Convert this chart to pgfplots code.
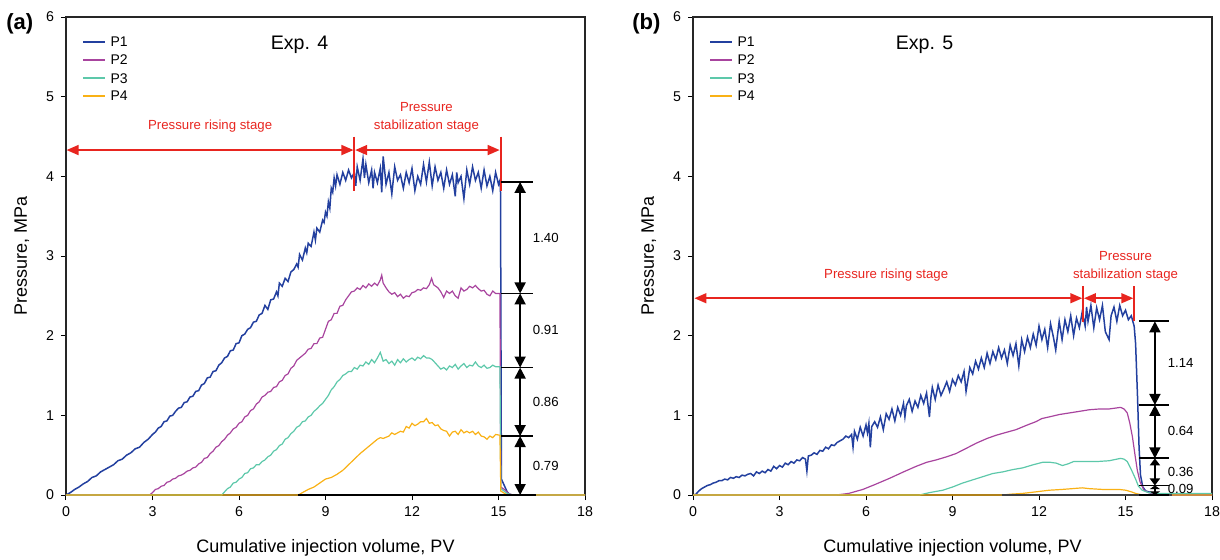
\documentclass[border=0pt]{standalone}
\usepackage{fontspec}
\setmainfont{Liberation Sans}
\usepackage{pgfplots}
\pgfplotsset{compat=1.18}
\usetikzlibrary{arrows.meta}
\definecolor{pone}{HTML}{23409F}
\definecolor{ptwo}{HTML}{A8449E}
\definecolor{pthree}{HTML}{5DC8AA}
\definecolor{pfour}{HTML}{F9B115}
\definecolor{annred}{HTML}{E8251F}

\pgfplotsset{
  pvplot/.style={
    scale only axis, width=259.5pt, height=239pt,
    xmin=0, xmax=18, ymin=0, ymax=6,
    xtick={0,3,...,18}, ytick={0,1,...,6},
    xtick pos=left, ytick pos=left,
    tick align=outside, major tick length=2.5pt,
    tick style={black, line width=0.5pt},
    axis line style={black!85, line width=0.6pt},
    ticklabel style={font=\fontsize{7.1}{8}\selectfont},
    /pgf/number format/assume math mode=true,
    xlabel={Cumulative injection volume, PV},
    ylabel={Pressure, MPa},
    label style={font=\fontsize{9}{11}\selectfont},
    xlabel style={at={(axis description cs:0.5,-0.111)}, anchor=center},
    ylabel style={at={(axis description cs:-0.085,0.5)}, anchor=center},
    clip=false,
    every axis plot/.append style={line width=0.6pt},
  },
}
\tikzset{
  dimarrow/.style={black, line width=0.9pt, {Triangle[length=5.5pt,width=5.5pt]}-{Triangle[length=5.5pt,width=5.5pt]}},
  stagearrow/.style={annred, line width=0.8pt, {Triangle[length=6pt,width=5pt]}-{Triangle[length=6pt,width=5pt]}},
  anntext/.style={font=\fontsize{6.6}{9}\selectfont},
  dimtick/.style={black, line width=0.9pt},
  legtext/.style={anchor=west, inner sep=0pt, font=\fontsize{7}{8}\selectfont},
  legline/.style={line width=0.7pt},
}

\begin{document}
\begin{tikzpicture}
\path[use as bounding box] (-33pt,-32pt) rectangle (577pt,247.5pt);

% ---------- (a) Exp. 4 ----------
\begin{axis}[pvplot, at={(0pt,0pt)}]
\addplot[pone, line width=0.75pt] coordinates {
(0,0) (0.15,0.03) (0.3,0.07) (0.45,0.1) (0.6,0.14) (0.75,0.17) (0.9,0.22) (1.05,0.24)
(1.2,0.29) (1.35,0.32) (1.5,0.35) (1.65,0.38) (1.8,0.43) (1.95,0.45) (2.1,0.5) (2.25,0.53)
(2.4,0.58) (2.55,0.6) (2.7,0.66) (2.85,0.7) (3.0,0.76) (3.1,0.79) (3.2,0.84) (3.3,0.86)
(3.4,0.92) (3.5,0.93) (3.6,0.99) (3.7,1.0) (3.8,1.05) (3.9,1.09) (4.0,1.1) (4.1,1.16)
(4.2,1.17) (4.3,1.23) (4.4,1.24) (4.5,1.3) (4.6,1.31) (4.7,1.38) (4.8,1.40) (4.9,1.47)
(5.0,1.48) (5.1,1.55) (5.2,1.56) (5.3,1.63) (5.4,1.66) (5.5,1.72) (5.6,1.74) (5.7,1.81)
(5.8,1.82) (5.9,1.9) (6.0,1.91) (6.1,2.0) (6.2,2.02) (6.3,2.08) (6.4,2.1) (6.5,2.17)
(6.6,2.18) (6.7,2.26) (6.8,2.28) (6.9,2.38) (7.0,2.33) (7.1,2.45) (7.2,2.46) (7.3,2.55)
(7.35,2.5) (7.4,2.66) (7.5,2.62) (7.6,2.72) (7.7,2.68) (7.8,2.8) (7.9,2.83) (8.0,2.9)
(8.05,2.86) (8.1,3.02) (8.2,2.95) (8.3,3.1) (8.35,3.04) (8.4,3.16) (8.5,3.12) (8.6,3.3)
(8.65,3.2) (8.7,3.35) (8.8,3.3) (8.9,3.45) (8.95,3.42) (9.0,3.55) (9.05,3.5) (9.1,3.68)
(9.15,3.6) (9.2,3.85) (9.25,3.8) (9.3,3.98) (9.35,3.88) (9.4,4.02) (9.5,3.9) (9.6,4.05)
(9.7,3.95) (9.8,4.08) (9.9,3.98) (10.0,4.05) (10.05,3.88) (10.1,4.12) (10.2,3.95) (10.3,4.22)
(10.35,3.98) (10.4,4.15) (10.5,3.92) (10.6,4.08) (10.65,3.85) (10.7,4.05) (10.8,3.92) (10.9,4.1)
(10.95,3.8) (11.0,4.25) (11.1,3.9) (11.2,4.05) (11.3,3.78) (11.4,4.12) (11.5,3.95) (11.6,4.02)
(11.7,3.85) (11.8,4.05) (11.9,3.92) (12.0,4.1) (12.1,3.82) (12.2,4.0) (12.3,3.9) (12.4,4.15)
(12.5,3.93) (12.6,4.18) (12.7,3.88) (12.8,4.12) (12.9,3.95) (13.0,4.05) (13.1,3.85) (13.2,4.08)
(13.3,3.9) (13.4,4.02) (13.5,3.75) (13.55,4.05) (13.6,3.92) (13.7,4.0) (13.8,3.72) (13.9,4.08)
(14.0,3.9) (14.1,4.12) (14.2,3.95) (14.3,4.05) (14.4,3.85) (14.5,4.08) (14.6,3.88) (14.7,4.0)
(14.8,3.82) (14.9,4.05) (15.0,3.9) (15.05,3.95) (15.07,3.8) (15.1,0.2) (15.2,0.12) (15.3,0.04)
(15.4,0) (18,0)
};
\addplot[ptwo] coordinates {
(0,0) (2.9,0) (3.0,0.03) (3.1,0.07) (3.2,0.08) (3.3,0.11) (3.4,0.12) (3.5,0.16) (3.6,0.17)
(3.7,0.2) (3.8,0.21) (3.9,0.24) (4.0,0.25) (4.1,0.27) (4.2,0.3) (4.3,0.31) (4.4,0.34) (4.5,0.35)
(4.6,0.39) (4.7,0.41) (4.8,0.46) (4.9,0.47) (5.0,0.52) (5.1,0.55) (5.2,0.6) (5.3,0.62) (5.4,0.67)
(5.5,0.7) (5.6,0.75) (5.7,0.78) (5.8,0.83) (5.9,0.85) (6.0,0.9) (6.1,0.92) (6.2,0.98) (6.3,1.0)
(6.4,1.06) (6.5,1.08) (6.6,1.14) (6.7,1.17) (6.8,1.23) (6.9,1.25) (7.0,1.29) (7.1,1.3) (7.2,1.35)
(7.3,1.36) (7.4,1.42) (7.5,1.44) (7.6,1.5) (7.7,1.52) (7.8,1.59) (7.9,1.62) (8.0,1.69) (8.1,1.72)
(8.2,1.75) (8.3,1.78) (8.4,1.83) (8.5,1.84) (8.6,1.9) (8.7,1.9) (8.8,1.97) (8.9,1.98) (9.0,2.08)
(9.1,2.18) (9.2,2.2) (9.3,2.28) (9.4,2.28) (9.5,2.37) (9.6,2.38) (9.7,2.45) (9.8,2.5) (9.9,2.55)
(10.0,2.56) (10.1,2.6) (10.2,2.58) (10.3,2.63) (10.4,2.6) (10.5,2.65) (10.6,2.62) (10.7,2.66)
(10.8,2.63) (10.9,2.7) (10.95,2.76) (11.0,2.66) (11.1,2.6) (11.2,2.55) (11.3,2.52) (11.4,2.54)
(11.5,2.49) (11.6,2.52) (11.7,2.47) (11.8,2.5) (11.9,2.49) (12.0,2.54) (12.1,2.55) (12.2,2.58)
(12.3,2.57) (12.4,2.6) (12.5,2.59) (12.6,2.64) (12.68,2.72) (12.75,2.64) (12.9,2.6) (13.0,2.55)
(13.1,2.48) (13.2,2.56) (13.3,2.53) (13.4,2.56) (13.5,2.5) (13.6,2.47) (13.7,2.6) (13.8,2.56)
(13.9,2.58) (14.0,2.62) (14.1,2.6) (14.2,2.63) (14.3,2.59) (14.4,2.56) (14.5,2.57) (14.6,2.52)
(14.7,2.5) (14.8,2.56) (14.9,2.53) (15.05,2.53) (15.08,0.1) (15.2,0.07) (15.35,0.02) (15.5,0) (18,0)
};
\addplot[pthree] coordinates {
(0,0) (5.4,0) (5.5,0.04) (5.6,0.08) (5.7,0.1) (5.8,0.15) (5.9,0.16) (6.0,0.2) (6.1,0.22)
(6.2,0.27) (6.3,0.28) (6.4,0.33) (6.5,0.34) (6.6,0.38) (6.7,0.38) (6.8,0.42) (6.9,0.44) (7.0,0.48)
(7.1,0.5) (7.2,0.55) (7.3,0.57) (7.4,0.62) (7.5,0.64) (7.6,0.7) (7.7,0.72) (7.8,0.77) (7.9,0.8)
(8.0,0.85) (8.1,0.87) (8.2,0.92) (8.3,0.93) (8.4,0.98) (8.5,1.0) (8.6,1.05) (8.7,1.08) (8.8,1.12)
(8.9,1.15) (9.0,1.2) (9.1,1.25) (9.2,1.32) (9.3,1.36) (9.4,1.42) (9.5,1.45) (9.6,1.5) (9.7,1.52)
(9.8,1.55) (9.9,1.55) (10.0,1.6) (10.1,1.58) (10.2,1.63) (10.3,1.62) (10.4,1.67) (10.5,1.64)
(10.6,1.7) (10.7,1.66) (10.8,1.72) (10.9,1.79) (11.0,1.68) (11.1,1.7) (11.2,1.65) (11.3,1.68)
(11.4,1.63) (11.5,1.7) (11.6,1.66) (11.7,1.71) (11.8,1.67) (11.9,1.7) (12.0,1.72) (12.1,1.69)
(12.2,1.73) (12.3,1.71) (12.4,1.75) (12.5,1.72) (12.6,1.72) (12.7,1.7) (12.8,1.66) (12.9,1.62)
(13.0,1.58) (13.1,1.6) (13.2,1.57) (13.3,1.62) (13.4,1.6) (13.5,1.64) (13.6,1.58) (13.7,1.62)
(13.8,1.65) (13.9,1.6) (14.0,1.63) (14.1,1.62) (14.2,1.67) (14.3,1.62) (14.4,1.6) (14.5,1.63)
(14.6,1.59) (14.7,1.6) (14.8,1.63) (14.9,1.61) (15.05,1.61) (15.08,0.08) (15.3,0.02) (15.5,0) (18,0)
};
\addplot[pfour] coordinates {
(0,0) (8.06,0) (8.2,0.03) (8.4,0.07) (8.6,0.1) (8.8,0.15) (9.0,0.2) (9.2,0.22) (9.4,0.26)
(9.6,0.31) (9.8,0.38) (10.0,0.45) (10.2,0.52) (10.4,0.58) (10.6,0.64) (10.8,0.7) (10.9,0.72)
(11.0,0.71) (11.2,0.74) (11.3,0.78) (11.4,0.76) (11.6,0.8) (11.7,0.79) (11.8,0.86) (11.9,0.84)
(12.0,0.9) (12.1,0.87) (12.2,0.89) (12.3,0.92) (12.4,0.92) (12.5,0.96) (12.6,0.9) (12.7,0.91)
(12.8,0.87) (12.9,0.88) (13.0,0.83) (13.1,0.81) (13.2,0.8) (13.3,0.74) (13.4,0.79) (13.5,0.8)
(13.6,0.76) (13.7,0.82) (13.8,0.78) (13.9,0.8) (14.0,0.78) (14.1,0.8) (14.2,0.76) (14.3,0.79)
(14.4,0.74) (14.5,0.73) (14.6,0.7) (14.7,0.74) (14.8,0.72) (14.9,0.76) (15.05,0.75) (15.08,0.05)
(15.3,0) (18,0)
};
\addplot[black, line width=0.7pt] coordinates {(8.05,0) (16.3,0)};

% legend
\draw[pone, legline] (axis description cs:0.033,0.948) -- (axis description cs:0.075,0.948);
\draw[ptwo, legline] (axis description cs:0.033,0.910) -- (axis description cs:0.075,0.910);
\draw[pthree, legline] (axis description cs:0.033,0.872) -- (axis description cs:0.075,0.872);
\draw[pfour, legline] (axis description cs:0.033,0.835) -- (axis description cs:0.075,0.835);
\node[legtext] at (axis description cs:0.085,0.948) {P1};
\node[legtext] at (axis description cs:0.085,0.910) {P2};
\node[legtext] at (axis description cs:0.085,0.872) {P3};
\node[legtext] at (axis description cs:0.085,0.835) {P4};

% stage arrows
\draw[stagearrow] (0.02,4.33) -- (9.97,4.33);
\draw[stagearrow] (10.03,4.33) -- (15.04,4.33);
\draw[annred, line width=1pt] (10.0,4.5) -- (10.0,3.82);
\draw[annred, line width=1pt] (15.07,4.5) -- (15.07,3.82);
\node[anntext, text=annred] at (5.0,4.63) {Pressure rising stage};
\node[anntext, text=annred, align=center] at (12.5,4.74) {Pressure\\stabilization stage};
\node[font=\fontsize{9.8}{11}\selectfont] at (8.1,5.65) {Exp. 4};

% pressure drop brackets
\draw[dimtick] (15.1,3.93) -- (16.2,3.93);
\draw[dimtick] (15.1,2.53) -- (16.2,2.53);
\draw[dimtick] (15.1,1.60) -- (16.2,1.60);
\draw[dimtick] (15.1,0.74) -- (16.2,0.74);
\draw[dimtick] (15.1,0) -- (16.2,0);
\draw[dimarrow] (15.75,3.93) -- (15.75,2.53);
\draw[dimarrow] (15.75,2.53) -- (15.75,1.60);
\draw[dimarrow] (15.75,1.60) -- (15.75,0.74);
\draw[dimarrow] (15.75,0.74) -- (15.75,0);
\node[anntext, anchor=west] at (15.95,3.23) {1.40};
\node[anntext, anchor=west] at (15.95,2.07) {0.91};
\node[anntext, anchor=west] at (15.95,1.17) {0.86};
\node[anntext, anchor=west] at (15.95,0.37) {0.79};
\node[font=\bfseries\fontsize{11}{12}\selectfont] at (axis description cs:-0.089,0.985) {(a)};
\end{axis}

% ---------- (b) Exp. 5 ----------
\begin{axis}[pvplot, at={(313.5pt,0pt)}]
\addplot[pone, line width=0.75pt] coordinates {
(0,0) (0.1,0.01) (0.2,0.05) (0.3,0.08) (0.4,0.1) (0.5,0.12) (0.6,0.13) (0.7,0.15) (0.8,0.16)
(0.9,0.18) (1.0,0.18) (1.1,0.2) (1.2,0.19) (1.3,0.22) (1.4,0.21) (1.5,0.23) (1.6,0.22) (1.7,0.25)
(1.8,0.24) (1.9,0.26) (2.0,0.27) (2.1,0.24) (2.2,0.29) (2.3,0.27) (2.4,0.3) (2.5,0.28) (2.6,0.32)
(2.7,0.3) (2.8,0.36) (2.9,0.33) (3.0,0.37) (3.1,0.35) (3.2,0.4) (3.3,0.38) (3.4,0.42) (3.5,0.4)
(3.6,0.44) (3.7,0.43) (3.8,0.47) (3.9,0.45) (3.95,0.3) (4.0,0.49) (4.1,0.5) (4.2,0.53) (4.3,0.51)
(4.4,0.56) (4.5,0.55) (4.6,0.6) (4.7,0.58) (4.8,0.63) (4.9,0.62) (5.0,0.66) (5.1,0.68) (5.2,0.7)
(5.3,0.74) (5.4,0.72) (5.5,0.76) (5.55,0.6) (5.6,0.8) (5.7,0.7) (5.8,0.85) (5.9,0.74) (6.0,0.88)
(6.05,0.78) (6.1,0.9) (6.15,0.6) (6.2,0.86) (6.3,0.92) (6.4,0.85) (6.5,0.98) (6.6,0.82) (6.7,1.02)
(6.8,0.95) (6.9,1.08) (7.0,0.93) (7.1,1.1) (7.2,1.0) (7.3,1.15) (7.35,0.98) (7.4,1.12) (7.5,1.2)
(7.6,1.05) (7.7,1.18) (7.8,1.1) (7.9,1.25) (8.0,1.15) (8.1,1.28) (8.2,0.98) (8.25,1.22) (8.3,1.35)
(8.4,1.2) (8.5,1.38) (8.6,1.25) (8.7,1.33) (8.8,1.42) (8.9,1.3) (9.0,1.45) (9.1,1.38) (9.2,1.5)
(9.3,1.42) (9.4,1.55) (9.47,1.3) (9.55,1.48) (9.6,1.6) (9.7,1.52) (9.8,1.68) (9.9,1.58) (10.0,1.72)
(10.1,1.6) (10.2,1.78) (10.3,1.65) (10.4,1.8) (10.5,1.7) (10.6,1.85) (10.7,1.72) (10.8,1.82)
(10.9,1.65) (11.0,1.88) (11.1,1.75) (11.2,1.9) (11.3,1.62) (11.4,1.95) (11.5,1.8) (11.6,1.98)
(11.7,1.85) (11.8,2.02) (11.9,1.88) (12.0,2.12) (12.1,1.95) (12.2,2.08) (12.3,1.85) (12.4,2.15)
(12.5,1.98) (12.58,1.82) (12.7,2.18) (12.8,1.95) (12.9,2.2) (13.0,2.05) (13.1,2.25) (13.2,2.0)
(13.3,2.22) (13.4,2.1) (13.5,2.3) (13.6,2.12) (13.65,2.36) (13.7,2.18) (13.8,2.38) (13.9,2.1)
(14.0,2.35) (14.1,2.2) (14.2,2.38) (14.3,2.05) (14.43,1.95) (14.5,2.25) (14.6,2.36) (14.7,2.18)
(14.8,2.38) (14.9,2.25) (15.0,2.32) (15.1,2.2) (15.2,2.25) (15.3,2.12) (15.35,1.9) (15.42,1.2)
(15.47,0.6) (15.52,0.25) (15.6,0.1) (15.7,0.05) (16.0,0.02) (16.3,0) (18,0)
};
\addplot[ptwo] coordinates {
(0,0) (4.97,0) (5.4,0.02) (5.89,0.07) (6.3,0.13) (6.82,0.21) (7.3,0.29) (7.74,0.36) (8.1,0.41)
(8.43,0.44) (8.8,0.48) (9.12,0.52) (9.5,0.59) (9.82,0.65) (10.2,0.71) (10.51,0.75) (10.9,0.79)
(11.2,0.82) (11.6,0.88) (11.89,0.92) (12.1,0.96) (12.35,0.98) (12.7,1.01) (13.05,1.03) (13.4,1.05)
(13.74,1.07) (14.1,1.08) (14.43,1.08) (14.83,1.10) (14.95,1.08) (15.06,1.03) (15.15,0.9)
(15.24,0.73) (15.33,0.5) (15.41,0.31) (15.5,0.17) (15.64,0.06) (15.8,0.03) (16.0,0.01) (16.3,0) (18,0)
};
\addplot[pthree] coordinates {
(0,0) (7.85,0) (8.2,0.03) (8.66,0.06) (9.0,0.1) (9.35,0.15) (9.7,0.19) (10.05,0.23) (10.4,0.27)
(10.74,0.29) (11.1,0.32) (11.43,0.34) (11.8,0.38) (12.12,0.41) (12.4,0.41) (12.6,0.40) (12.81,0.37)
(13.0,0.39) (13.2,0.42) (13.51,0.42) (14.0,0.42) (14.43,0.43) (14.83,0.46) (14.95,0.45) (15.06,0.42)
(15.2,0.32) (15.35,0.2) (15.45,0.11) (15.58,0.06) (15.8,0.03) (16.2,0.02) (18,0.02)
};
\addplot[pfour] coordinates {
(0,0) (10.74,0) (11.0,0.01) (11.43,0.02) (11.9,0.04) (12.35,0.06) (12.8,0.07) (13.16,0.08)
(13.5,0.09) (13.74,0.08) (14.2,0.07) (14.78,0.07) (15.01,0.06) (15.2,0.04) (15.35,0.02) (15.58,0) (18,0)
};
\addplot[black!75, line width=0.7pt] coordinates {(10.7,0) (16.6,0)};

% legend
\draw[pone, legline] (axis description cs:0.033,0.948) -- (axis description cs:0.075,0.948);
\draw[ptwo, legline] (axis description cs:0.033,0.910) -- (axis description cs:0.075,0.910);
\draw[pthree, legline] (axis description cs:0.033,0.872) -- (axis description cs:0.075,0.872);
\draw[pfour, legline] (axis description cs:0.033,0.835) -- (axis description cs:0.075,0.835);
\node[legtext] at (axis description cs:0.085,0.948) {P1};
\node[legtext] at (axis description cs:0.085,0.910) {P2};
\node[legtext] at (axis description cs:0.085,0.872) {P3};
\node[legtext] at (axis description cs:0.085,0.835) {P4};

\draw[stagearrow] (0.05,2.47) -- (13.50,2.47);
\draw[stagearrow] (13.56,2.47) -- (15.27,2.47);
\draw[annred, line width=1pt] (13.53,2.62) -- (13.53,2.17);
\draw[annred, line width=1pt] (15.30,2.62) -- (15.30,2.18);
\node[anntext, text=annred] at (6.7,2.76) {Pressure rising stage};
\node[anntext, text=annred, align=center] at (15.0,2.87) {Pressure\\stabilization stage};
\node[font=\fontsize{9.8}{11}\selectfont] at (8.03,5.65) {Exp. 5};

\draw[dimtick] (15.47,2.18) -- (16.5,2.18);
\draw[dimtick] (15.47,1.13) -- (16.5,1.13);
\draw[dimtick] (15.47,0.46) -- (16.5,0.46);
\draw[dimtick] (15.47,0.12) -- (16.5,0.12);
\draw[dimtick] (15.47,0) -- (16.5,0);
\draw[dimarrow] (16.02,2.18) -- (16.02,1.13);
\draw[dimarrow] (16.02,1.13) -- (16.02,0.46);
\draw[black, line width=0.9pt, {Triangle[length=3.5pt,width=5pt]}-{Triangle[length=3.5pt,width=5pt]}] (16.02,0.46) -- (16.02,0.12);
\draw[black, line width=0.9pt, {Triangle[length=1.8pt,width=5pt]}-{Triangle[length=1.8pt,width=5pt]}] (16.02,0.12) -- (16.02,0);
\node[anntext, anchor=west] at (16.22,1.66) {1.14};
\node[anntext, anchor=west] at (16.22,0.80) {0.64};
\node[anntext, anchor=west] at (16.22,0.29) {0.36};
\node[anntext, anchor=west] at (16.22,0.08) {0.09};
\node[font=\bfseries\fontsize{11}{12}\selectfont] at (axis description cs:-0.09,0.985) {(b)};
\end{axis}
\end{tikzpicture}
\end{document}
